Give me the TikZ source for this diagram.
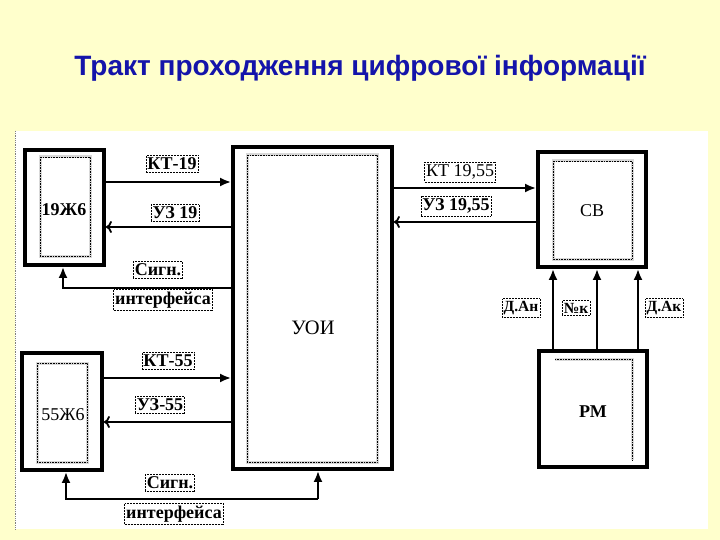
\documentclass[tikz,border=0pt]{standalone}
\usepackage{fontspec}
\setmainfont{Liberation Serif}
\newfontfamily\titlefont{Liberation Sans}
\usetikzlibrary{arrows.meta}
\definecolor{bgyellow}{RGB}{255,255,204}
\definecolor{titleblue}{RGB}{20,20,170}
\tikzset{
  blockbox/.style={draw=black, line width=3.8pt, fill=white, inner sep=0pt},
  innerdots/.style={draw=black, densely dotted, line width=0.6pt},
  innerband/.style={draw=gray!30, line width=3pt},
  lbl/.style={draw=black, densely dotted, line width=0.5pt, fill=white, inner xsep=1.5pt, inner ysep=2.5pt, font=\fontsize{18}{20}\selectfont\bfseries},
  lblr/.style={lbl, font=\fontsize{18}{20}\selectfont},
  smalllbl/.style={lbl, font=\fontsize{15.5}{17}\selectfont\bfseries},
  btext/.style={font=\fontsize{18}{20}\selectfont\bfseries},
  rtext/.style={font=\fontsize{18}{20}\selectfont},
  conn/.style={line width=2.8pt},
  filltip/.style={conn, -{Latex[length=11pt,width=9pt]}},
  opentip/.style={conn, -{To[length=6pt,width=12pt,line width=1.8pt]}},
}
\begin{document}
\begin{tikzpicture}[x=1pt,y=-1pt]
\useasboundingbox (0,0) rectangle (720,540);
\fill[bgyellow] (0,0) rectangle (720,540);
\fill[white] (15,131) rectangle (708,529);
\draw[densely dotted, gray, line width=0.8pt] (15,131) -- (15,529);
\node[font=\titlefont\fontsize{28}{32}\selectfont\bfseries, text=titleblue] (title) at (360,68) {Тракт проходження цифрової інформації};

% blocks
\node[blockbox, minimum width=79pt, minimum height=115pt] (b19) at (64.5,207.5) {};
\node[blockbox, minimum width=80pt, minimum height=117pt] (b55) at (62,411.5) {};
\node[blockbox, minimum width=159pt, minimum height=322pt] (uoi) at (312.5,308) {};
\node[blockbox, minimum width=108pt, minimum height=115pt] (cb) at (592,209.5) {};
\node[blockbox, minimum width=108pt, minimum height=116pt] (pm) at (593,409) {};

% inner dotted frames
\draw[innerband] (40,157) rectangle (90,256);
\draw[innerdots] (40,157) rectangle (90,256);
\draw[innerband] (37,363) rectangle (87,462);
\draw[innerdots] (37,363) rectangle (87,462);
\draw[innerband] (247,155) rectangle (377,462);
\draw[innerdots] (247,155) rectangle (377,462);
\draw[innerband] (553,161) rectangle (632,259);
\draw[innerdots] (553,161) rectangle (632,259);
\draw[innerband] (555,359) -- (632,359) -- (632,460);
\draw[innerdots] (555,359) -- (632,359) -- (632,460);

% block texts
\node[btext] (t19) at (64,210) {19Ж6};
\node[rtext] (t55) at (63,415) {55Ж6};
\node[font=\fontsize{20.5}{22}\selectfont] (tuoi) at (313,328) {УОИ};
\node[rtext] (tcb) at (592,211) {СВ};
\node[btext] (tpm) at (593,412) {РМ};

% connectors left top
\draw[filltip] (b19.east |- 0,182) -- (uoi.west |- 0,182);
\draw[opentip] (uoi.west |- 0,227) -- (b19.east |- 0,227);
\coordinate (s1) at (63,288);
\draw[filltip] (uoi.west |- s1) -- (s1) -- (s1 |- b19.south);
% connectors left bottom
\draw[filltip] (b55.east |- 0,378) -- (uoi.west |- 0,378);
\draw[opentip] (uoi.west |- 0,422) -- (b55.east |- 0,422);
\coordinate (s2) at (66,499);
\coordinate (s3) at (318,499);
\draw[filltip] (s3) -- (s2) -- (s2 |- b55.south);
\draw[filltip] (s3) -- (s3 |- uoi.south);
% right connectors
\draw[filltip] (uoi.east |- 0,188) -- (cb.west |- 0,188);
\draw[opentip] (cb.west |- 0,222) -- (uoi.east |- 0,222);
\draw[filltip] (pm.north -| 553,0) -- (cb.south -| 553,0);
\draw[filltip] (pm.north -| 597,0) -- (cb.south -| 597,0);
\draw[filltip] (pm.north -| 638,0) -- (cb.south -| 638,0);

% labels
\node[lbl] (lkt19) at (172,164) {КТ-19};
\node[lbl] (luz19) at (175,213) {УЗ 19};
\node[lbl] (ls1) at (158,270) {Сигн.};
\node[lbl] (li1) at (163,300) {интерфейса};
\node[lbl] (lkt55) at (168,361) {КТ-55};
\node[lbl] (luz55) at (160,405) {УЗ-55};
\node[lbl] (ls2) at (170,483) {Сигн.};
\node[lbl] (li2) at (174,514) {интерфейса};
\node[lblr] (lkt1955) at (460,172) {КТ 19,55};
\node[lbl] (luz1955) at (456,206) {УЗ 19,55};
\node[smalllbl] (ldan) at (521,308) {Д.Ан};
\node[smalllbl] (lnk) at (576,308) {№к};
\node[smalllbl] (ldak) at (664,308) {Д.Ак};
\end{tikzpicture}
\end{document}
